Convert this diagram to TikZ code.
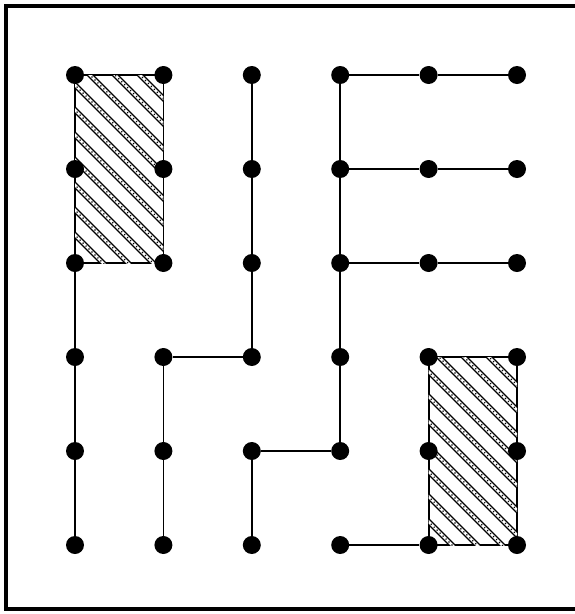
\documentclass[tikz,border=0pt]{standalone}
\usetikzlibrary{backgrounds}
\tikzset{
  dot/.style={circle, fill=black, inner sep=0pt, minimum size=18pt},
  wire/.style={line width=1.8pt},
  frame/.style={line width=4pt},
  hatch/.style={line width=1.4pt, double=white, double distance=2.6pt},
  hatchdots/.style={line width=1.2pt, dash pattern=on 1.2pt off 3pt},
  area/.style={draw, line width=1.8pt, fill=white},
}

\begin{document}
\begin{tikzpicture}[x=1pt, y=-1pt]
  \useasboundingbox (0,0) rectangle (575,614);
  \draw[frame] (580,6) -- (6,6) -- (6,609) -- (580,609);

  % the grid of dots, column c, row r
  \foreach \c in {1,...,6}
    \foreach \r in {1,...,6}
      \node[dot] (n-\c-\r) at ({75+88.4*(\c-1)}, {75+94*(\r-1)}) {};

  % connections
  \draw[wire] (n-1-3) -- (n-1-4) -- (n-1-5) -- (n-1-6);
  \draw[wire] (n-3-4) -- (n-2-4) -- (n-2-5) -- (n-2-6);
  \draw[wire] (n-3-1) -- (n-3-2) -- (n-3-3) -- (n-3-4);
  \draw[wire] (n-4-5) -- (n-3-5) -- (n-3-6);
  \draw[wire] (n-4-1) -- (n-4-2) -- (n-4-3) -- (n-4-4) -- (n-4-5);
  \foreach \r in {1,2,3}
    \draw[wire] (n-4-\r) -- (n-5-\r) -- (n-6-\r);
  \draw[wire] (n-4-6) -- (n-5-6);

  % hatched blocks
  \begin{scope}[on background layer]
    \draw[area] (n-1-1.center) rectangle (n-2-3.center);
    \begin{scope}
      \clip (n-1-1.center) rectangle (n-2-3.center);
      \foreach \k in {-4,...,7} {
        \draw[hatch] (50, {50+10+25*\k}) -- (190, {190+10+25*\k});
        \draw[hatchdots] (50, {50+10+25*\k}) -- (190, {190+10+25*\k});
      }
    \end{scope}
    \draw[area] (n-5-4.center) rectangle (n-6-6.center);
    \begin{scope}
      \clip (n-5-4.center) rectangle (n-6-6.center);
      \foreach \k in {-4,...,8} {
        \draw[hatch] (410, {410-57+25*\k}) -- (540, {540-57+25*\k});
        \draw[hatchdots] (410, {410-57+25*\k}) -- (540, {540-57+25*\k});
      }
    \end{scope}
  \end{scope}
\end{tikzpicture}
\end{document}
